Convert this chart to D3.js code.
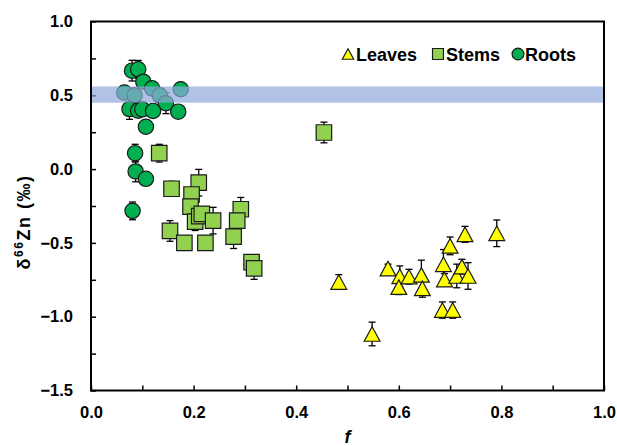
<!DOCTYPE html>
<meta charset="utf-8">
<script src="https://d3js.org/d3.v7.min.js"></script>
<style>
  body { margin: 0; background: #fff; }
  text { font-family: "Liberation Sans", Arial, sans-serif; font-weight: bold; }
</style>
<div id="page"></div>
<script>

  // Data: f, delta66Zn, error
  var leavesF = [0.483, 0.548, 0.579, 0.602, 0.600, 0.620, 0.644, 0.646, 0.687, 0.689, 0.685, 0.705, 0.700, 0.729, 0.713, 0.723, 0.735, 0.791];
  var leavesD = [-0.765, -1.117, -0.674, -0.726, -0.800, -0.729, -0.717, -0.808, -0.645, -0.748, -0.955, -0.955, -0.520, -0.442, -0.724, -0.661, -0.724, -0.435];
  var leavesE = [0.05, 0.08, 0.03, 0.07, 0.05, 0.05, 0.10, 0.06, 0.10, 0.04, 0.055, 0.055, 0.06, 0.054, 0.08, 0.05, 0.09, 0.09];

  var stemsF = [0.454, 0.133, 0.157, 0.210, 0.196, 0.194, 0.203, 0.211, 0.216, 0.238, 0.292, 0.285, 0.154, 0.182, 0.223, 0.278, 0.313, 0.318];
  var stemsD = [0.248, 0.108, -0.133, -0.092, -0.172, -0.254, -0.356, -0.318, -0.304, -0.349, -0.272, -0.349, -0.419, -0.500, -0.500, -0.458, -0.630, -0.672];
  var stemsE = [0.07, 0.06, 0.05, 0.09, 0.04, 0.04, 0.06, 0.04, 0.04, 0.09, 0.08, 0.04, 0.07, 0.03, 0.03, 0.08, 0.04, 0.075];

  var rootsF = [0.080, 0.092, 0.102, 0.119, 0.065, 0.085, 0.134, 0.146, 0.175, 0.075, 0.092, 0.100, 0.121, 0.170, 0.107, 0.086, 0.087, 0.107, 0.081];
  var rootsD = [0.667, 0.676, 0.592, 0.547, 0.518, 0.500, 0.500, 0.446, 0.541, 0.407, 0.396, 0.405, 0.394, 0.389, 0.287, 0.108, -0.016, -0.066, -0.283];
  var rootsE = [0.07, 0.06, 0.03, 0.03, 0.03, 0.03, 0.03, 0.07, 0.04, 0.07, 0.04, 0.03, 0.03, 0.03, 0.03, 0.06, 0.07, 0.03, 0.06];

  var band = [0.45, 0.56];
  var xTicks = [0, 0.1, 0.2, 0.3, 0.4, 0.5, 0.6, 0.7, 0.8, 0.9, 1.0];
  var yTicks = [-1.5, -1.25, -1.0, -0.75, -0.5, -0.25, 0, 0.25, 0.5, 0.75, 1.0];

  var W = 617, H = 446;
  var pLeft = 91, pRight = 604, pTop = 21.5, pBottom = 390.5;

  var svg = d3.select("#page").append("svg")
    .attr("width", W).attr("height", H);

  var x = d3.scaleLinear().domain([0, 1]).range([pLeft, pRight]);
  var y = d3.scaleLinear().domain([-1.5, 1]).range([pBottom, pTop]);

  // triangle centred on its bounding box, like the spreadsheet markers
  var triBox = {
    draw: function (ctx, size) {
      var w = Math.sqrt(size), h = w * 0.92;
      ctx.moveTo(0, -h / 2);
      ctx.lineTo(w / 2, h / 2);
      ctx.lineTo(-w / 2, h / 2);
      ctx.closePath();
    }
  };

  function zip(f, d, e) {
    return f.map(function (v, i) { return { f: v, d: d[i], e: e[i] }; });
  }

  var series = [
    { name: "Leaves", data: zip(leavesF, leavesD, leavesE), type: triBox, size: 250, fill: "#ffff00" },
    { name: "Stems", data: zip(stemsF, stemsD, stemsE), type: d3.symbolSquare, size: 240, fill: "#92d050" },
    { name: "Roots", data: zip(rootsF, rootsD, rootsE), type: d3.symbolCircle, size: 185, fill: "#00b050" }
  ];

  // axes
  var fmt = function (d, i) { return i % 2 === 0 ? d3.format(".1f")(d) : ""; };
  var xAxis = svg.append("g")
    .attr("transform", "translate(0," + pBottom + ")")
    .call(d3.axisBottom(x).tickValues(xTicks).tickSizeInner(-5).tickSizeOuter(0).tickPadding(16).tickFormat(fmt));
  var yAxis = svg.append("g")
    .attr("transform", "translate(" + pLeft + ",0)")
    .call(d3.axisLeft(y).tickValues(yTicks).tickSizeInner(-5).tickSizeOuter(0).tickPadding(18).tickFormat(fmt));

  [xAxis, yAxis].forEach(function (g) {
    g.attr("font-size", 16.5).attr("font-family", null);
    g.select(".domain").remove();
    g.selectAll("line").attr("stroke", "#000").attr("stroke-width", 1.5);
    g.selectAll("text").attr("fill", "#000");
  });

  // frame
  svg.append("rect")
    .attr("x", pLeft).attr("y", pTop)
    .attr("width", pRight - pLeft).attr("height", pBottom - pTop)
    .attr("fill", "none").attr("stroke", "#000").attr("stroke-width", 2);

  // points with error bars
  series.forEach(function (s) {
    var g = svg.append("g");
    var eb = g.selectAll(".eb").data(s.data).enter().append("g")
      .attr("stroke", "#000").attr("stroke-width", 1.3);
    eb.append("line")
      .attr("x1", function (d) { return x(d.f); }).attr("x2", function (d) { return x(d.f); })
      .attr("y1", function (d) { return y(d.d - d.e); }).attr("y2", function (d) { return y(d.d + d.e); });
    eb.append("line")
      .attr("x1", function (d) { return x(d.f) - 3.5; }).attr("x2", function (d) { return x(d.f) + 3.5; })
      .attr("y1", function (d) { return y(d.d + d.e); }).attr("y2", function (d) { return y(d.d + d.e); });
    eb.append("line")
      .attr("x1", function (d) { return x(d.f) - 3.5; }).attr("x2", function (d) { return x(d.f) + 3.5; })
      .attr("y1", function (d) { return y(d.d - d.e); }).attr("y2", function (d) { return y(d.d - d.e); });

    g.selectAll("path").data(s.data).enter().append("path")
      .attr("d", d3.symbol().type(s.type).size(s.size))
      .attr("transform", function (d) { return "translate(" + x(d.f) + "," + y(d.d) + ")"; })
      .attr("fill", s.fill).attr("stroke", "#1a1a1a").attr("stroke-width", 1.2);
  });

  // semi-transparent band on top of points
  svg.append("rect")
    .attr("x", pLeft + 1).attr("width", pRight - pLeft - 2)
    .attr("y", y(band[1])).attr("height", y(band[0]) - y(band[1]))
    .attr("fill", "#8faadc").attr("opacity", 0.7);

  // legend
  var legend = [
    { s: series[0], mx: 348, tx: 356, sz: 130 },
    { s: series[1], mx: 438, tx: 446, sz: 120 },
    { s: series[2], mx: 518, tx: 525, sz: 110 }
  ];
  var ly = 54;
  legend.forEach(function (l) {
    svg.append("path")
      .attr("d", d3.symbol().type(l.s.type).size(l.sz)())
      .attr("transform", "translate(" + l.mx + "," + ly + ")")
      .attr("fill", l.s.fill).attr("stroke", "#1a1a1a").attr("stroke-width", 1.2);
    svg.append("text")
      .attr("x", l.tx).attr("y", ly + 6.5)
      .attr("font-size", 18)
      .text(l.s.name);
  });

  // axis titles
  svg.append("text")
    .attr("x", (pLeft + pRight) / 2).attr("y", 443)
    .attr("text-anchor", "middle")
    .attr("font-size", 18).attr("font-style", "italic")
    .text("f");

  var yt = svg.append("text")
    .attr("transform", "translate(30,222)rotate(-90)")
    .attr("text-anchor", "middle")
    .attr("font-size", 18)
    .attr("letter-spacing", 1.5);
  yt.append("tspan").text("δ");
  yt.append("tspan").attr("font-size", 12).attr("dy", -7).text("66");
  yt.append("tspan").attr("dy", 7).text("Zn (‰)");

</script>
